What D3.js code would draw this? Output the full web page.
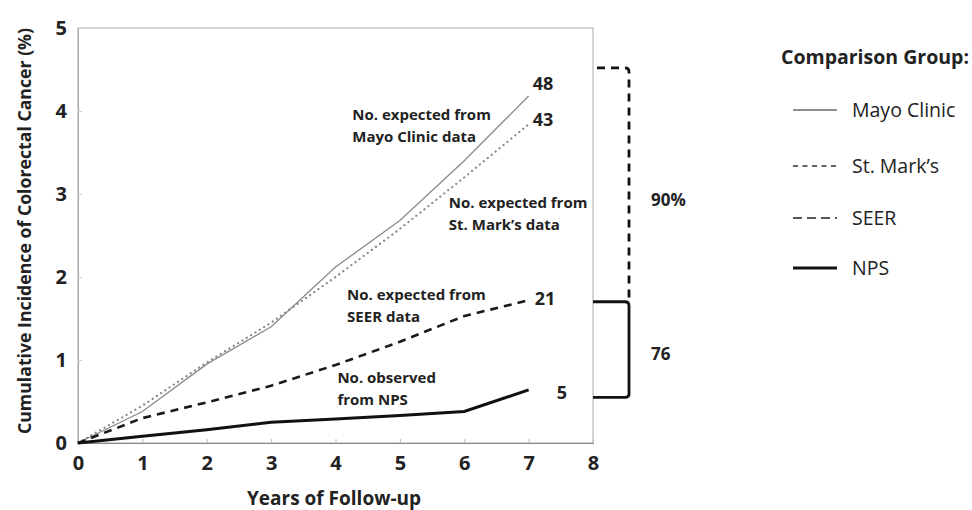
<!DOCTYPE html>
<html>
<head>
<meta charset="utf-8">
<script src="https://cdn.jsdelivr.net/npm/d3@7"></script>
<style>
  body { margin: 0; background: #fff; }
  text { font-family: "Open Sans", sans-serif; }
</style>
</head>
<body>
<svg id="chart" width="972" height="510"></svg>
<script>
// data
const years = [0, 1, 2, 3, 4, 5, 6, 7];
const mayo = [0, 0.38, 0.95, 1.4, 2.12, 2.68, 3.4, 4.18];
const stMarks = [0, 0.45, 0.97, 1.45, 2.0, 2.58, 3.2, 3.84];
const seer = [0, 0.3, 0.49, 0.69, 0.94, 1.22, 1.53, 1.72];
const nps = [0, 0.08, 0.16, 0.25, 0.29, 0.33, 0.38, 0.64];
const xTicks = [0, 1, 2, 3, 4, 5, 6, 7, 8];
const yTicks = [0, 1, 2, 3, 4, 5];
const endLabels = ["48", "43", "21", "5"];
const legendNames = ["Mayo Clinic", "St. Mark\u2019s", "SEER", "NPS"];
// bracket levels (in % units)
const bracketTop = 4.52, bracketMid = 1.69, bracketLow = 0.55;
const bracketTexts = ["90%", "76"];

const svg = d3.select("#chart");
const margin = { left: 78, top: 28, right: 379, bottom: 67 };
const W = 972 - margin.left - margin.right;
const H = 510 - margin.top - margin.bottom;

const x = d3.scaleLinear().domain([0, 8]).range([0, W]);
const y = d3.scaleLinear().domain([0, 5]).range([H, 0]);

const g = svg.append("g").attr("transform", `translate(${margin.left},${margin.top})`);

// frame
g.append("rect").attr("x", 0).attr("y", 0).attr("width", W).attr("height", H)
  .attr("fill", "none").attr("stroke", "#a8a8a8").attr("stroke-width", 1);

// axes
const xAxis = g.append("g").attr("transform", `translate(0,${H})`)
  .call(d3.axisBottom(x).tickValues(xTicks).tickSize(-4).tickPadding(13).tickFormat(d3.format("d")));
xAxis.select(".domain").attr("stroke", "#888");
xAxis.selectAll(".tick line").attr("stroke", "#bbb");
xAxis.selectAll("text").attr("fill", "#222").style("font-size", "20px").style("font-weight", 700);

const yAxis = g.append("g")
  .call(d3.axisLeft(y).tickValues(yTicks).tickSize(-4).tickPadding(11).tickFormat(d3.format("d")));
yAxis.select(".domain").attr("stroke", "#aaa");
yAxis.selectAll(".tick line").attr("stroke", "#ccc");
yAxis.selectAll("text").attr("fill", "#222").style("font-size", "20px").style("font-weight", 700);

svg.append("text")
  .attr("transform", "translate(31,231) rotate(-90)")
  .attr("text-anchor", "middle")
  .style("font-size", "17.7px").style("font-weight", 700).attr("fill", "#222")
  .text("Cumulative Incidence of Colorectal Cancer (%)");

svg.append("text")
  .attr("x", 334).attr("y", 505)
  .attr("text-anchor", "middle")
  .style("font-size", "19px").style("font-weight", 700).attr("fill", "#222")
  .text("Years of Follow-up");

// series
const styles = [
  { vals: mayo, stroke: "#8a8a8a", width: 1.3, dash: null, cap: "butt" },
  { vals: stMarks, stroke: "#888", width: 2.2, dash: "0.1,5", cap: "round" },
  { vals: seer, stroke: "#1a1a1a", width: 2.6, dash: "8,6", cap: "butt" },
  { vals: nps, stroke: "#111", width: 3, dash: null, cap: "butt" }
];
const line = d3.line().x((d, i) => x(years[i])).y(d => y(d));

g.selectAll("path.series").data(styles).join("path")
  .attr("class", "series")
  .attr("d", d => line(d.vals))
  .attr("fill", "none")
  .attr("stroke", d => d.stroke)
  .attr("stroke-width", d => d.width)
  .attr("stroke-dasharray", d => d.dash)
  .attr("stroke-linecap", d => d.cap);

// end values
const endPos = [
  { dx: 4, dy: -12 }, { dx: 4, dy: -5 }, { dx: 6, dy: -2 }, { dx: 28, dy: 3 }
];
g.selectAll("text.endlbl").data(styles).join("text")
  .attr("class", "endlbl")
  .attr("x", (d, i) => x(7) + endPos[i].dx)
  .attr("y", (d, i) => y(d.vals[7]) + endPos[i].dy)
  .attr("dy", "0.35em")
  .style("font-size", "18px").style("font-weight", 700).attr("fill", "#222")
  .text((d, i) => endLabels[i]);

// annotations
const notes = [
  { lines: ["No. expected from", "Mayo Clinic data"], at: [4.26, 3.89] },
  { lines: ["No. expected from", "St. Mark\u2019s data"], at: [5.76, 2.83] },
  { lines: ["No. expected from", "SEER data"], at: [4.18, 1.72] },
  { lines: ["No. observed", "from NPS"], at: [4.03, 0.72] }
];
notes.forEach(n => {
  const t = g.append("text")
    .attr("x", x(n.at[0])).attr("y", y(n.at[1]))
    .style("font-size", "15px").style("font-weight", 700).attr("fill", "#222");
  n.lines.forEach((s, i) => t.append("tspan").attr("x", x(n.at[0])).attr("dy", i ? 22 : 0).text(s));
});

// brackets to the right of the plot
const bx0 = W + 4, bx1 = W + 36;
g.append("path")
  .attr("d", `M${bx0},${y(bracketTop)} H${bx1 - 4} Q${bx1},${y(bracketTop)} ${bx1},${y(bracketTop) + 4} V${y(bracketMid)}`)
  .attr("fill", "none").attr("stroke", "#111").attr("stroke-width", 2.8).attr("stroke-dasharray", "8,6");
g.append("path")
  .attr("d", `M${W},${y(bracketMid) - 1} H${bx1 - 4} Q${bx1},${y(bracketMid) - 1} ${bx1},${y(bracketMid) + 3} V${y(bracketLow) - 3} Q${bx1},${y(bracketLow)} ${bx1 - 4},${y(bracketLow)} H${W}`)
  .attr("fill", "none").attr("stroke", "#111").attr("stroke-width", 2.8);
g.append("text").attr("x", W + 58).attr("y", y((bracketTop + bracketMid) / 2) + 15).attr("dy", "0.35em")
  .style("font-size", "17px").style("font-weight", 700).attr("fill", "#222").text(bracketTexts[0]);
g.append("text").attr("x", W + 58).attr("y", y((bracketMid + bracketLow) / 2) + 4).attr("dy", "0.35em")
  .style("font-size", "17px").style("font-weight", 700).attr("fill", "#222").text(bracketTexts[1]);

// legend
const leg = svg.append("g").attr("transform", "translate(781,0)");
leg.append("text").attr("x", 0).attr("y", 57).attr("dy", "0.35em")
  .style("font-size", "19.5px").style("font-weight", 700).attr("fill", "#222")
  .text("Comparison Group:");
const legStyles = [
  { stroke: "#222", width: 1.2, dash: null },
  { stroke: "#333", width: 1.4, dash: "5,4.5" },
  { stroke: "#222", width: 1.6, dash: "9,5" },
  { stroke: "#111", width: 3, dash: null }
];
const legY = [110, 166, 218, 268];
const items = leg.selectAll("g.item").data(legendNames).join("g")
  .attr("class", "item")
  .attr("transform", (d, i) => `translate(0,${legY[i]})`);
items.append("line").attr("x1", 12).attr("x2", 56)
  .attr("stroke", (d, i) => legStyles[i].stroke)
  .attr("stroke-width", (d, i) => legStyles[i].width)
  .attr("stroke-dasharray", (d, i) => legStyles[i].dash);
items.append("text").attr("x", 71).attr("dy", "0.35em")
  .style("font-size", "19.5px").attr("fill", "#222").text(d => d);
</script>
</body>
</html>
